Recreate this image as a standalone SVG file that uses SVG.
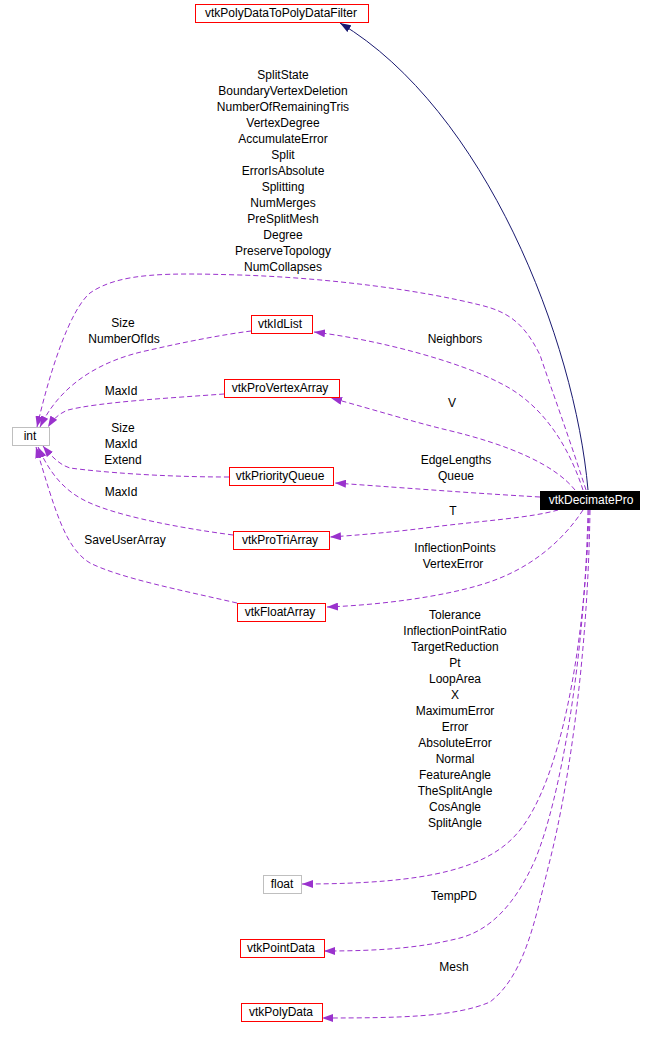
<svg xmlns="http://www.w3.org/2000/svg" width="653" height="1038" viewBox="0 0 653 1038">
<style>
text{font-family:"Liberation Sans",Arial,sans-serif;font-size:12px;fill:#000;text-anchor:middle}
.red{fill:#fff;stroke:#ff0000;stroke-width:1}
.gray{fill:#fff;stroke:#bfbfbf;stroke-width:1}
.main{fill:#000;stroke:#000}
.wt{fill:#fff}
.inh{fill:none;stroke:#191970;stroke-width:1}
.use{fill:none;stroke:#9a32cd;stroke-width:1;stroke-dasharray:5,3}
</style>
<defs>
<marker id="an" markerUnits="userSpaceOnUse" markerWidth="11" markerHeight="8" refX="11" refY="4" orient="auto"><path d="M0,0 L11,4 L0,8 z" fill="#191970"/></marker>
<marker id="ap" markerUnits="userSpaceOnUse" markerWidth="11" markerHeight="8" refX="11" refY="4" orient="auto"><path d="M0,0 L11,4 L0,8 z" fill="#9a32cd"/></marker>
</defs>
<rect width="653" height="1038" fill="#fff"/>
<g id="connectors">
<path class="inh" marker-end="url(#an)" d="M588,490 C575,340 485,110 340,23"/>
<path class="use" marker-end="url(#ap)" d="M586,490 C570,440 550,385 540,355 C525,325 510,312 480,305 C420,290 330,278 240,275 C170,273 120,272 90,293 C70,310 50,370 37,427"/>
<path class="use" marker-end="url(#ap)" d="M583,490 C570,450 545,405 500,383 C460,362 380,340 314,332"/>
<path class="use" marker-end="url(#ap)" d="M575,490 C555,465 510,445 447,430 C410,421 375,410 331,398"/>
<path class="use" marker-end="url(#ap)" d="M540,497 C470,493 420,489 335,483"/>
<path class="use" marker-end="url(#ap)" d="M558,510 C530,518 480,521 433,527 C395,532 360,535 330,537"/>
<path class="use" marker-end="url(#ap)" d="M583,510 C560,545 525,572 480,585 C440,597 380,605 327,607"/>
<path class="use" marker-end="url(#ap)" d="M589,510 C585,650 560,780 520,830 C490,868 430,884 302,884"/>
<path class="use" marker-end="url(#ap)" d="M588,510 C585,660 560,800 535,860 C515,905 490,930 460,938 C420,948 380,951 324,951"/>
<path class="use" marker-end="url(#ap)" d="M590,510 C588,650 570,780 550,860 C535,920 525,975 490,1002 C455,1017 400,1018 322,1018"/>
<path class="use" marker-end="url(#ap)" d="M251,331 C220,335 180,343 150,350 C100,360 60,385 40,427"/>
<path class="use" marker-end="url(#ap)" d="M224,394 C170,398 100,402 68,410 C60,413 53,419 48,427"/>
<path class="use" marker-end="url(#ap)" d="M229,477 C160,477 100,472 70,468 C60,465 52,457 43,446"/>
<path class="use" marker-end="url(#ap)" d="M233,535 C180,528 130,518 100,507 C75,498 55,485 38,447"/>
<path class="use" marker-end="url(#ap)" d="M237,603 C180,590 120,578 90,563 C65,548 55,510 36,447"/>
<g id="edge-labels">
<text x="283" y="79">SplitState</text>
<text x="283" y="95">BoundaryVertexDeletion</text>
<text x="283" y="111">NumberOfRemainingTris</text>
<text x="283" y="127">VertexDegree</text>
<text x="283" y="143">AccumulateError</text>
<text x="283" y="159">Split</text>
<text x="283" y="175">ErrorIsAbsolute</text>
<text x="283" y="191">Splitting</text>
<text x="283" y="207">NumMerges</text>
<text x="283" y="223">PreSplitMesh</text>
<text x="283" y="239">Degree</text>
<text x="283" y="255">PreserveTopology</text>
<text x="283" y="271">NumCollapses</text>
<text x="123" y="327">Size</text>
<text x="124" y="343">NumberOfIds</text>
<text x="121" y="395">MaxId</text>
<text x="123" y="432">Size</text>
<text x="121" y="448">MaxId</text>
<text x="123" y="464">Extend</text>
<text x="121" y="496">MaxId</text>
<text x="125" y="544">SaveUserArray</text>
<text x="455" y="343">Neighbors</text>
<text x="452" y="407">V</text>
<text x="456" y="464">EdgeLengths</text>
<text x="456" y="480">Queue</text>
<text x="453" y="515">T</text>
<text x="455" y="552">InflectionPoints</text>
<text x="453" y="568">VertexError</text>
<text x="455" y="619">Tolerance</text>
<text x="455" y="635">InflectionPointRatio</text>
<text x="455" y="651">TargetReduction</text>
<text x="455" y="667">Pt</text>
<text x="455" y="683">LoopArea</text>
<text x="455" y="699">X</text>
<text x="455" y="715">MaximumError</text>
<text x="455" y="731">Error</text>
<text x="455" y="747">AbsoluteError</text>
<text x="455" y="763">Normal</text>
<text x="455" y="779">FeatureAngle</text>
<text x="455" y="795">TheSplitAngle</text>
<text x="455" y="811">CosAngle</text>
<text x="455" y="827">SplitAngle</text>
<text x="454" y="900">TempPD</text>
<text x="454" y="971">Mesh</text>
</g>
</g>
<g id="vtkPolyDataToPolyDataFilter"><rect class="red" x="195.5" y="4.5" width="173" height="18"/><text x="281" y="17">vtkPolyDataToPolyDataFilter</text></g>
<g id="vtkDecimatePro"><rect class="main" x="540.5" y="491.5" width="99" height="18"/><text class="wt" x="591" y="504">vtkDecimatePro</text></g>
<g id="int"><rect class="gray" x="12.5" y="427.5" width="37" height="18"/><text x="30" y="440">int</text></g>
<g id="vtkIdList"><rect class="red" x="251.5" y="315.5" width="61" height="18"/><text x="280" y="328">vtkIdList</text></g>
<g id="vtkProVertexArray"><rect class="red" x="224.5" y="379.5" width="115" height="18"/><text x="280" y="392">vtkProVertexArray</text></g>
<g id="vtkPriorityQueue"><rect class="red" x="229.5" y="467.5" width="104" height="18"/><text x="280" y="480">vtkPriorityQueue</text></g>
<g id="vtkProTriArray"><rect class="red" x="233.5" y="531.5" width="96" height="18"/><text x="280" y="544">vtkProTriArray</text></g>
<g id="vtkFloatArray"><rect class="red" x="237.5" y="603.5" width="88" height="18"/><text x="280" y="616">vtkFloatArray</text></g>
<g id="float"><rect class="gray" x="263.5" y="875.5" width="38" height="18"/><text x="282" y="888">float</text></g>
<g id="vtkPointData"><rect class="red" x="240.5" y="939.5" width="84" height="18"/><text x="281" y="952">vtkPointData</text></g>
<g id="vtkPolyData"><rect class="red" x="241.5" y="1003.5" width="81" height="18"/><text x="281" y="1016">vtkPolyData</text></g>
</svg>
